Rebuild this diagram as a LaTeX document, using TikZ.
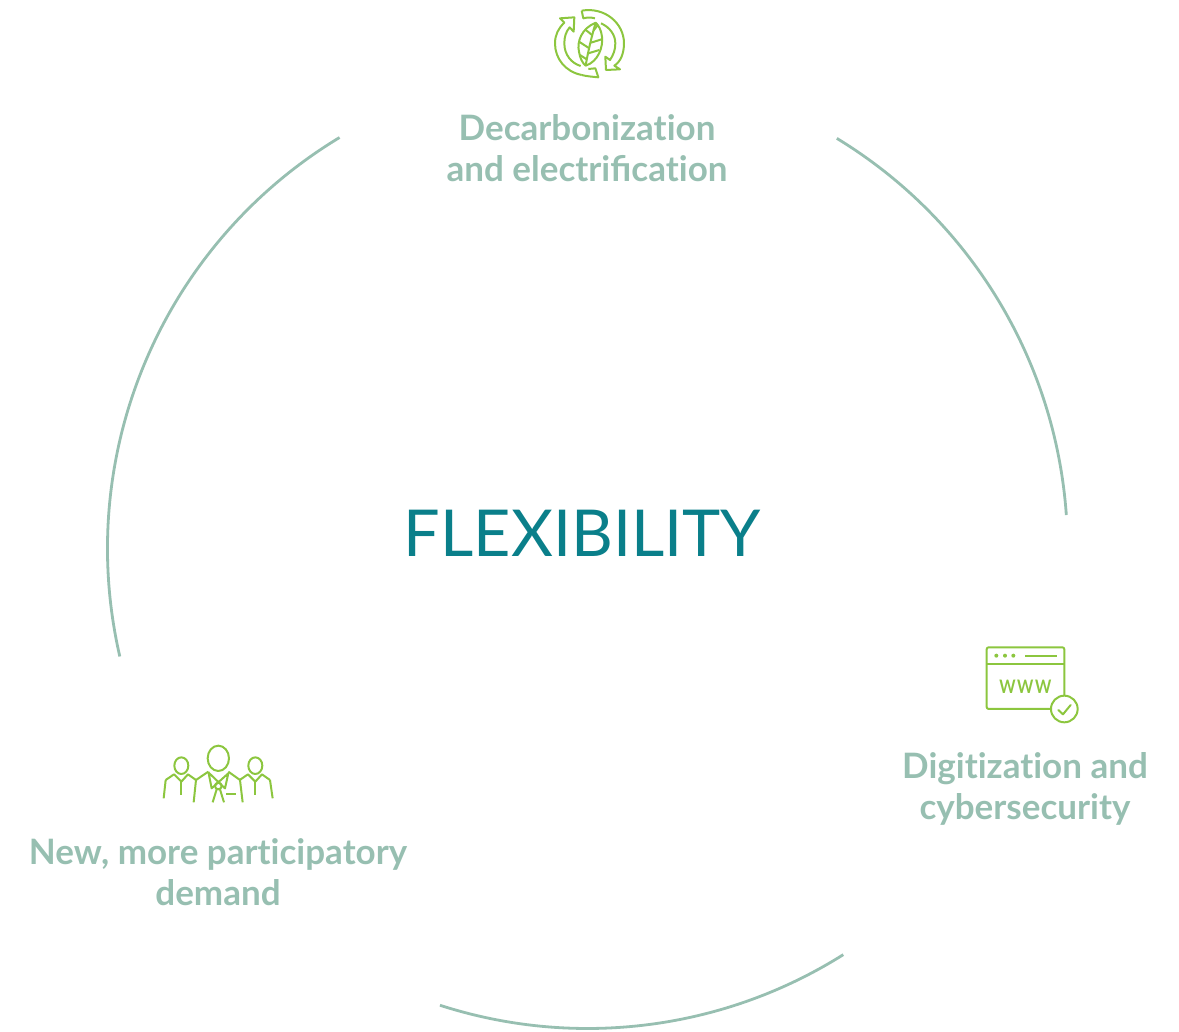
\documentclass[tikz,border=0pt]{standalone}
\usepackage{fontspec}
\setmainfont{Lato}
\definecolor{sage}{HTML}{97BFB1}
\definecolor{teal}{HTML}{0A7F8A}
\definecolor{leaf}{HTML}{8CC63F}
\newcommand{\tI}{t\kern0pt i}
\tikzset{
  ring/.style={draw=sage,line width=2.8pt,line cap=butt},
  caption/.style={text=sage,font=\fontsize{35}{41}\selectfont\bfseries,align=center,inner sep=0pt},
  icon/.style={draw=leaf,line width=2pt,line join=round,fill=none},
  iconzoom/.style={x=0.3333pt,y=-0.3333pt}
}
\begin{document}
\begin{tikzpicture}[x=1pt,y=-1pt]
\useasboundingbox (0,0) rectangle (1179,1032);
\coordinate (c) at (587.5,548.5);
% ring segments
\draw[ring] (c) ++(-58.7:480) arc[start angle=-58.7,end angle=-4.0,radius=480];
\draw[ring] (c) ++(57.8:480) arc[start angle=57.8,end angle=107.9,radius=480];
\draw[ring] (c) ++(167:480) arc[start angle=167,end angle=238.9,radius=480];
% texts
\node[text=teal,font=\fontsize{64.7}{70}\selectfont,inner sep=0pt] (flex) at (582.5,533.5) {FLEXIBILITY};
\node[caption] (dec) at (587,148.5) {Decarboniza\tI on\\and electrifica\tI on};
\node[caption] (dig) at (1025,788.5) {Digi\tI za\tI on and\\cybersecurity};
\node[caption] (dem) at (218,872.5) {New, more par\tI cipatory\\demand};
% recycle-leaf icon
\begin{scope}[shift={(530,0)},iconzoom]
  % left arrow
  \draw[icon] (155,225) .. controls (105,215) and (75,175) .. (75,130) .. controls (75,105) and (85,85) .. (103,68) -- (90,55) -- (133,52) -- (131,95) -- (119,82) .. controls (108,95) and (103,110) .. (103,130) .. controls (103,165) and (125,190) .. (152,198);
  % right arrow
  \draw[icon] (155,32) -- (160,55) .. controls (170,52) and (185,52) .. (195,55);
  \draw[icon] (155,32) .. controls (225,20) and (282,70) .. (282,130) .. controls (282,160) and (272,185) .. (253,197) -- (270,208) -- (228,210) -- (226,170) -- (240,180) .. controls (250,165) and (256,150) .. (256,130) .. controls (256,105) and (240,82) .. (213,70);
  % bottom tab
  \draw[icon] (155,225) .. controls (170,229) and (185,230) .. (205,232) -- (196,205) -- (175,207);
  % leaf
  \draw[icon] (197,68) .. controls (155,85) and (140,125) .. (147,155) .. controls (150,175) and (158,190) .. (167,197) .. controls (205,185) and (220,140) .. (216,110) .. controls (214,90) and (205,75) .. (197,68) -- cycle;
  \draw[icon] (197,68) .. controls (185,110) and (175,150) .. (167,197);
  \draw[icon] (190,92) -- (203,76);
  \draw[icon] (183,128) -- (215,118);
  \draw[icon] (175,160) -- (208,150);
  \draw[icon] (186,105) -- (165,88);
  \draw[icon] (178,145) -- (147,125);
  \draw[icon] (170,178) -- (150,165);
\end{scope}
% browser icon
\begin{scope}[shift={(970,635)},iconzoom]
  \draw[icon,rounded corners=2pt] (245,222) -- (50,222) -- (50,37) -- (283,37) -- (283,183);
  \draw[icon] (50,86) -- (283,86);
  \draw[icon] (165,62) -- (262,62);
  \fill[leaf] (79,62) circle (6) (105,62) circle (6) (130,62) circle (6);
  \node[text=leaf,font=\fontsize{15.5}{19}\selectfont\bfseries,inner sep=0pt] (www) at (166,155) {\scalebox{1}[1.2]{W\hspace{1.6pt}W\hspace{1.6pt}W}};
  \draw[icon] (283,222) circle (40);
  \draw[icon,line cap=round] (265,225) -- (279,238) -- (302,210);
\end{scope}
% people icon
\begin{scope}[shift={(150,735)},iconzoom]
  \foreach \cx in {94,316} {
    \draw[icon] (\cx,92) ellipse (21 and 25);
    \draw[icon] (\cx,140) -- (\cx,180);
    \draw[icon] (\cx-47,135) -- (\cx-22,118) -- (\cx,140) -- (\cx+20,118) -- (\cx+44,135);
  }
  \draw[icon] (41,190) -- (47,135);
  \draw[icon] (368,190) -- (360,135);
  \draw[icon] (131,202) -- (138,135) -- (175,110);
  \draw[icon] (278,202) -- (270,135) -- (235,110);
  \draw[icon] (205,70) ellipse (32 and 38);
  \draw[icon] (175,110) -- (185,160) -- (235,115) -- (225,160) -- (175,112);
  \draw[icon] (205,153) circle (10);
  \draw[icon] (188,202) -- (200,163);
  \draw[icon] (222,202) -- (210,163);
  \draw[icon] (229,177) -- (258,177);
\end{scope}
\end{tikzpicture}
\end{document}
